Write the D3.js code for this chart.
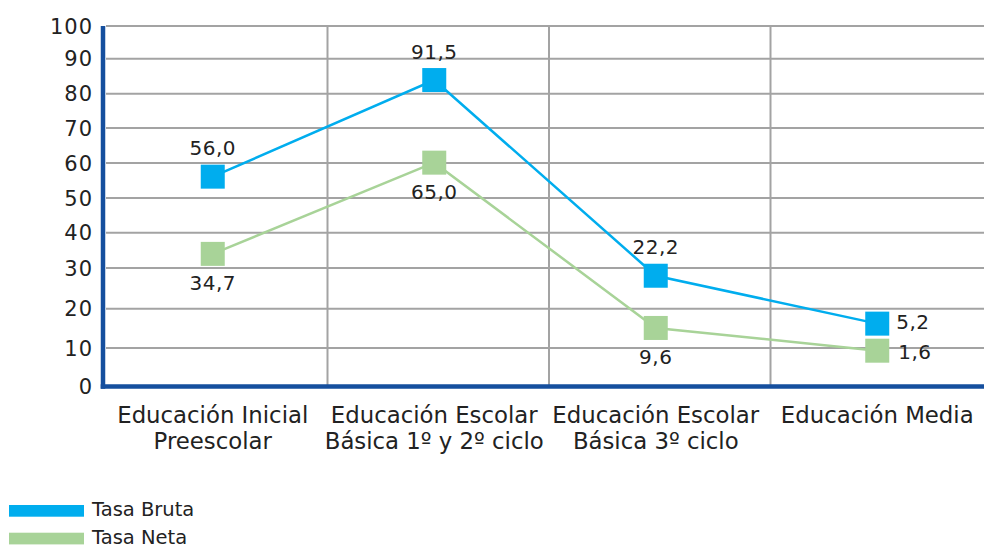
<!DOCTYPE html>
<html>
<head>
  <meta charset="utf-8">
  <script src="https://cdn.jsdelivr.net/npm/d3@7/dist/d3.min.js"></script>
  <style>
    body { margin: 0; background: #fff; }
    text { font-family: "DejaVu Sans", sans-serif; fill: #222; }
    .grid line { stroke: #a3a3a3; stroke-width: 2; }
    .tick-label { font-size: 21px; letter-spacing: 1px; }
    .val { font-size: 20px; letter-spacing: 0.5px; }
    .cat { font-size: 22.8px; }
    .legend text { font-size: 19.5px; }
  </style>
</head>
<body>
  <svg id="chart" width="984" height="548"></svg>
  <script>
    var categories = [
      ['Educación Inicial', 'Preescolar'],
      ['Educación Escolar', 'Básica 1º y 2º ciclo'],
      ['Educación Escolar', 'Básica 3º ciclo'],
      ['Educación Media']
    ];
    var seriesNames = ['Tasa Bruta', 'Tasa Neta'];
    // where the markers sit in the picture
    var brutaValues = [56.1, 83.9, 28.1, 16.2];
    var netaValues = [34.0, 60.1, 15.1, 9.3];
    // the printed labels
    var brutaLabels = ['56,0', '91,5', '22,2', '5,2'];
    var netaLabels = ['34,7', '65,0', '9,6', '1,6'];
    var tickValues = [0, 10, 20, 30, 40, 50, 60, 70, 80, 90, 100];
    var colors = ['#00adee', '#a8d398'];

    var svg = d3.select('#chart');

    var x = d3.scaleBand()
      .domain(d3.range(categories.length))
      .range([106, 992]);

    // the grid in the picture is slightly uneven, so map each tick
    var y = d3.scaleLinear()
      .domain(tickValues)
      .range([386.5, 348, 308.7, 268, 232.7, 198, 163, 128, 93.7, 58.7, 26]);

    // horizontal grid
    svg.append('g').attr('class', 'grid')
      .selectAll('line')
      .data(tickValues.slice(1))
      .enter().append('line')
      .attr('x1', 106).attr('x2', 984)
      .attr('y1', d => y(d)).attr('y2', d => y(d));

    // vertical grid
    svg.append('g').attr('class', 'grid')
      .selectAll('line')
      .data(d3.range(1, categories.length))
      .enter().append('line')
      .attr('x1', d => x(d)).attr('x2', d => x(d))
      .attr('y1', y(100)).attr('y2', y(0));

    // tick labels
    svg.append('g')
      .selectAll('text')
      .data(tickValues)
      .enter().append('text')
      .attr('class', 'tick-label')
      .attr('x', 93)
      .attr('y', d => y(d))
      .attr('dy', '0.36em')
      .attr('text-anchor', 'end')
      .text(d => d);

    // axes
    svg.append('line')
      .attr('x1', 103).attr('x2', 103)
      .attr('y1', y(100)).attr('y2', y(0) + 2.3)
      .style('stroke', '#154f9e').style('stroke-width', 4.5);
    svg.append('line')
      .attr('x1', 100.7).attr('x2', 984)
      .attr('y1', y(0)).attr('y2', y(0))
      .style('stroke', '#154f9e').style('stroke-width', 4.5);

    var cx = i => x(i) + x.bandwidth() / 2 - 4;

    // category labels
    var cat = svg.append('g')
      .selectAll('text')
      .data(categories)
      .enter().append('text')
      .attr('class', 'cat')
      .attr('text-anchor', 'middle')
      .attr('transform', (d, i) => 'translate(' + cx(i) + ',0)');
    cat.selectAll('tspan')
      .data(d => d)
      .enter().append('tspan')
      .attr('x', 0)
      .attr('y', (d, i) => 423 + i * 25.5)
      .text(d => d);

    var line = d3.line()
      .x((d, i) => cx(i))
      .y(d => y(d));

    [brutaValues, netaValues].forEach(function (vals, s) {
      svg.append('path')
        .datum(vals)
        .attr('d', line)
        .style('fill', 'none')
        .style('stroke', colors[s])
        .style('stroke-width', 2.5);
    });

    [brutaValues, netaValues].forEach(function (vals, s) {
      svg.append('g')
        .selectAll('rect')
        .data(vals)
        .enter().append('rect')
        .attr('x', (d, i) => cx(i) - 12)
        .attr('y', d => y(d) - 12)
        .attr('width', 24)
        .attr('height', 24)
        .style('fill', colors[s]);
    });

    var last = categories.length - 1;
    svg.append('g')
      .selectAll('text')
      .data(brutaValues)
      .enter().append('text')
      .attr('class', 'val')
      .attr('text-anchor', (d, i) => i === last ? 'start' : 'middle')
      .attr('x', (d, i) => i === last ? cx(i) + 19 : cx(i))
      .attr('y', (d, i) => i === last ? y(d) + 5 : y(d) - 21.5)
      .text((d, i) => brutaLabels[i]);

    svg.append('g')
      .selectAll('text')
      .data(netaValues)
      .enter().append('text')
      .attr('class', 'val')
      .attr('text-anchor', (d, i) => i === last ? 'start' : 'middle')
      .attr('x', (d, i) => i === last ? cx(i) + 21 : cx(i))
      .attr('y', (d, i) => i === last ? y(d) + 8.5 : y(d) + 36)
      .text((d, i) => netaLabels[i]);

    // legend
    var legend = svg.append('g').attr('class', 'legend')
      .selectAll('g')
      .data(seriesNames)
      .enter().append('g')
      .attr('transform', (d, i) => 'translate(9,' + (505 + i * 27.7) + ')');
    legend.append('rect')
      .attr('width', 75).attr('height', 11.7)
      .style('fill', (d, i) => colors[i]);
    legend.append('text')
      .attr('x', 83).attr('y', 11)
      .text(d => d);
  </script>
</body>
</html>
